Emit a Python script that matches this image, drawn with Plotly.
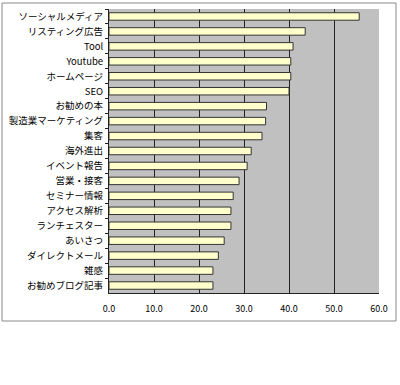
import plotly.graph_objects as go

categories = ["ソーシャルメディア", "リスティング広告", "Tool", "Youtube", "ホームページ", "SEO",
              "お勧めの本", "製造業マーケティング", "集客", "海外進出", "イベント報告", "営業・接客",
              "セミナー情報", "アクセス解析", "ランチェスター", "あいさつ", "ダイレクトメール", "雑感",
              "お勧めブログ記事"]
values = [55.6, 43.6, 40.9, 40.4, 40.4, 40.0, 35.0, 34.8, 34.0, 31.6, 30.7, 28.9,
          27.6, 27.1, 27.1, 25.6, 24.3, 23.1, 23.1]
x_ticks = [0, 10, 20, 30, 40, 50, 60]

fig = go.Figure(go.Bar(
    x=values, y=categories, orientation="h",
    marker=dict(color="#FFFFCC", line=dict(color="#333333", width=1)),
    width=0.5,
))

L, R, T, B = 109, 21, 9, 92
W, H = 400, 385
pw, ph = W - L - R, H - T - B

fig.update_layout(
    width=W, height=H,
    margin=dict(l=L, r=R, t=T, b=B, autoexpand=False),
    paper_bgcolor="white", plot_bgcolor="#C0C0C0",
    showlegend=False,
    font=dict(family="Noto Sans CJK JP", size=9, color="black"),
    xaxis=dict(range=[0, 60], tickvals=x_ticks, tickformat=".1f",
               showgrid=True, gridcolor="#222222", gridwidth=1,
               showline=True, linecolor="#222222", linewidth=1,
               zeroline=False, ticks="", ticklabelstandoff=7, automargin=False,
               tickfont=dict(size=9, family="Noto Sans CJK JP")),
    yaxis=dict(autorange="reversed", showgrid=False, zeroline=False,
               showline=True, linecolor="#222222", linewidth=1,
               ticks="outside", ticklen=3, tickcolor="#222222", automargin=False,
               tickson="boundaries", ticklabelstandoff=3, tickfont=dict(size=9.5)),
    bargap=0.5,
    shapes=[dict(type="rect", xref="paper", yref="paper",
                 x0=(2 - L) / pw, x1=(396 - L) / pw,
                 y0=(H - B - 321) / ph, y1=(H - B - 3) / ph,
                 line=dict(color="#888888", width=1), fillcolor="rgba(0,0,0,0)",
                 layer="below")],
)

fig.write_html("out.html")
